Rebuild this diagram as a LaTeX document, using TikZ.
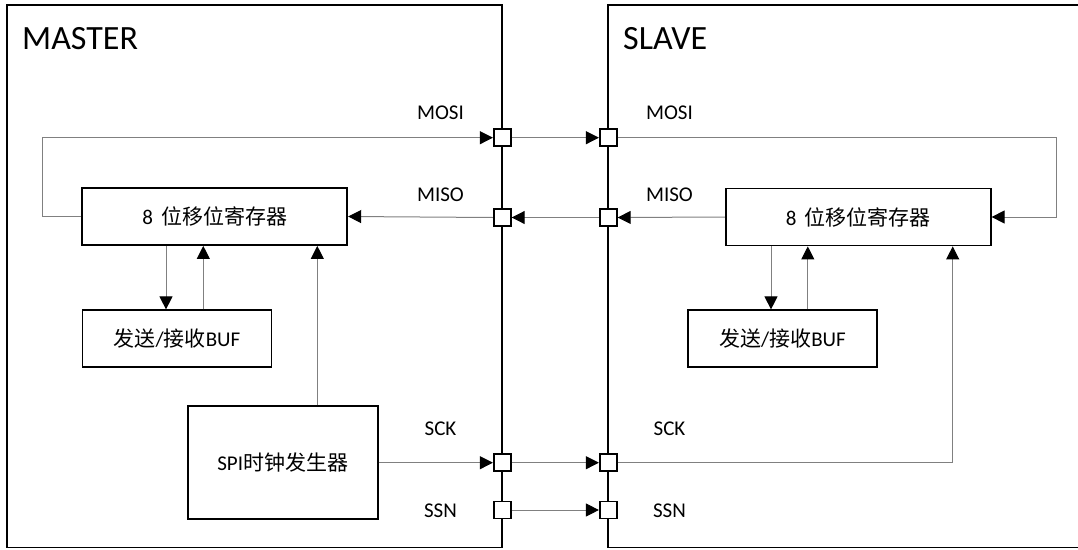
\documentclass[tikz,border=0pt]{standalone}
\usepackage{fontspec}
\setmainfont{Carlito}
\newfontfamily\cjk{Noto Sans CJK SC}
\usepackage{tikz}
\usetikzlibrary{arrows.meta}
\usepackage{xcolor}
\definecolor{wire}{RGB}{128,128,128}

\begin{document}
\begin{tikzpicture}[x=1pt, y=-1pt,
    frame/.style={draw, line width=1.8pt},
    blk/.style={draw, line width=1.8pt, inner sep=0pt, font=\fontsize{21}{24}\selectfont},
    port/.style={draw, fill=white, line width=1.8pt, minimum size=17pt, inner sep=0pt},
    sig/.style={font=\fontsize{21}{24}\selectfont, anchor=base, inner sep=0pt},
    title/.style={font=\fontsize{34}{38}\selectfont, anchor=base west, inner sep=0pt},
    conn/.style={draw=wire, line width=1pt},
    arr/.style={conn, -{Triangle[length=13pt, width=13pt, color=black]}}]

    \useasboundingbox (0,0) rectangle (1078,549);

    % Master and slave frames
    \draw[frame] (7.2,5.2) rectangle (502.3,547.5);
    \draw[frame] (1085,5.2) -| (608.3,547.5) -- (1085,547.5);
    \node[title] (master) at (22,49.3) {MASTER};
    \node[title] (slave) at (623,49.3) {SLAVE};

    % Blocks
    \node[blk, minimum width=265pt, minimum height=57pt] (msr) at (214.8,216.5) {8\, {\cjk 位移位寄存器}};
    \node[blk, minimum width=189pt, minimum height=57pt] (mbuf) at (177,338.8) {{\cjk 发送}/{\cjk 接收}BUF};
    \node[blk, minimum width=190pt, minimum height=113pt] (mclk) at (282.7,462.7) {SPI{\cjk 时钟发生器}};
    \node[blk, minimum width=265pt, minimum height=57pt] (ssr) at (858.2,217) {8\, {\cjk 位移位寄存器}};
    \node[blk, minimum width=189pt, minimum height=57pt] (sbuf) at (782.5,338.8) {{\cjk 发送}/{\cjk 接收}BUF};

    % Ports
    \node[port] (mMOSI) at (502.3,137.7) {};
    \node[port] (mMISO) at (502.3,217.5) {};
    \node[port] (mSCK) at (502.3,462.7) {};
    \node[port] (mSSN) at (502.3,510) {};
    \node[port] (sMOSI) at (608.3,137.7) {};
    \node[port] (sMISO) at (608.3,217.5) {};
    \node[port] (sSCK) at (608.3,462.7) {};
    \node[port] (sSSN) at (608.3,510) {};

    % Signal names
    \node[sig] (mlMOSI) at (440.5,119) {MOSI};
    \node[sig] (mlMISO) at (440.5,201.7) {MISO};
    \node[sig] (mlSCK) at (440.5,435) {SCK};
    \node[sig] (mlSSN) at (440.5,517.7) {SSN};
    \node[sig] (slMOSI) at (669.5,119) {MOSI};
    \node[sig] (slMISO) at (669.5,201.7) {MISO};
    \node[sig] (slSCK) at (669.5,435) {SCK};
    \node[sig] (slSSN) at (669.5,517.7) {SSN};

    % Turning points
    \coordinate (mloop) at (42.3,0);
    \coordinate (sloop) at (1056.7,0);
    \coordinate (mdn) at (166,0);
    \coordinate (mup) at (203.3,0);
    \coordinate (mck) at (317.3,0);
    \coordinate (sdn) at (771,0);
    \coordinate (sup) at (807.8,0);
    \coordinate (sck) at (952.7,0);

    % MOSI
    \draw[arr] (msr.west) -- (msr.west -| mloop) |- (mMOSI.west);
    \draw[arr] (mMOSI.east) -- (sMOSI.west);
    \draw[arr] (sMOSI.east) -- (sMOSI.east -| sloop) |- (ssr.east);

    % MISO
    \draw[arr] (ssr.west) -- (sMISO.east);
    \draw[arr] (sMISO.west) -- (mMISO.east);
    \draw[arr] (mMISO.west) -- (msr.east);

    % Buffers
    \draw[arr] (msr.south -| mdn) -- (mbuf.north -| mdn);
    \draw[arr] (mbuf.north -| mup) -- (msr.south -| mup);
    \draw[arr] (ssr.south -| sdn) -- (sbuf.north -| sdn);
    \draw[arr] (sbuf.north -| sup) -- (ssr.south -| sup);

    % SCK and SSN
    \draw[arr] (mclk.north -| mck) -- (msr.south -| mck);
    \draw[arr] (mclk.east) -- (mSCK.west);
    \draw[arr] (mSCK.east) -- (sSCK.west);
    \draw[arr] (sSCK.east) -| (ssr.south -| sck);
    \draw[arr] (mSSN.east) -- (sSSN.west);

\end{tikzpicture}
\end{document}
